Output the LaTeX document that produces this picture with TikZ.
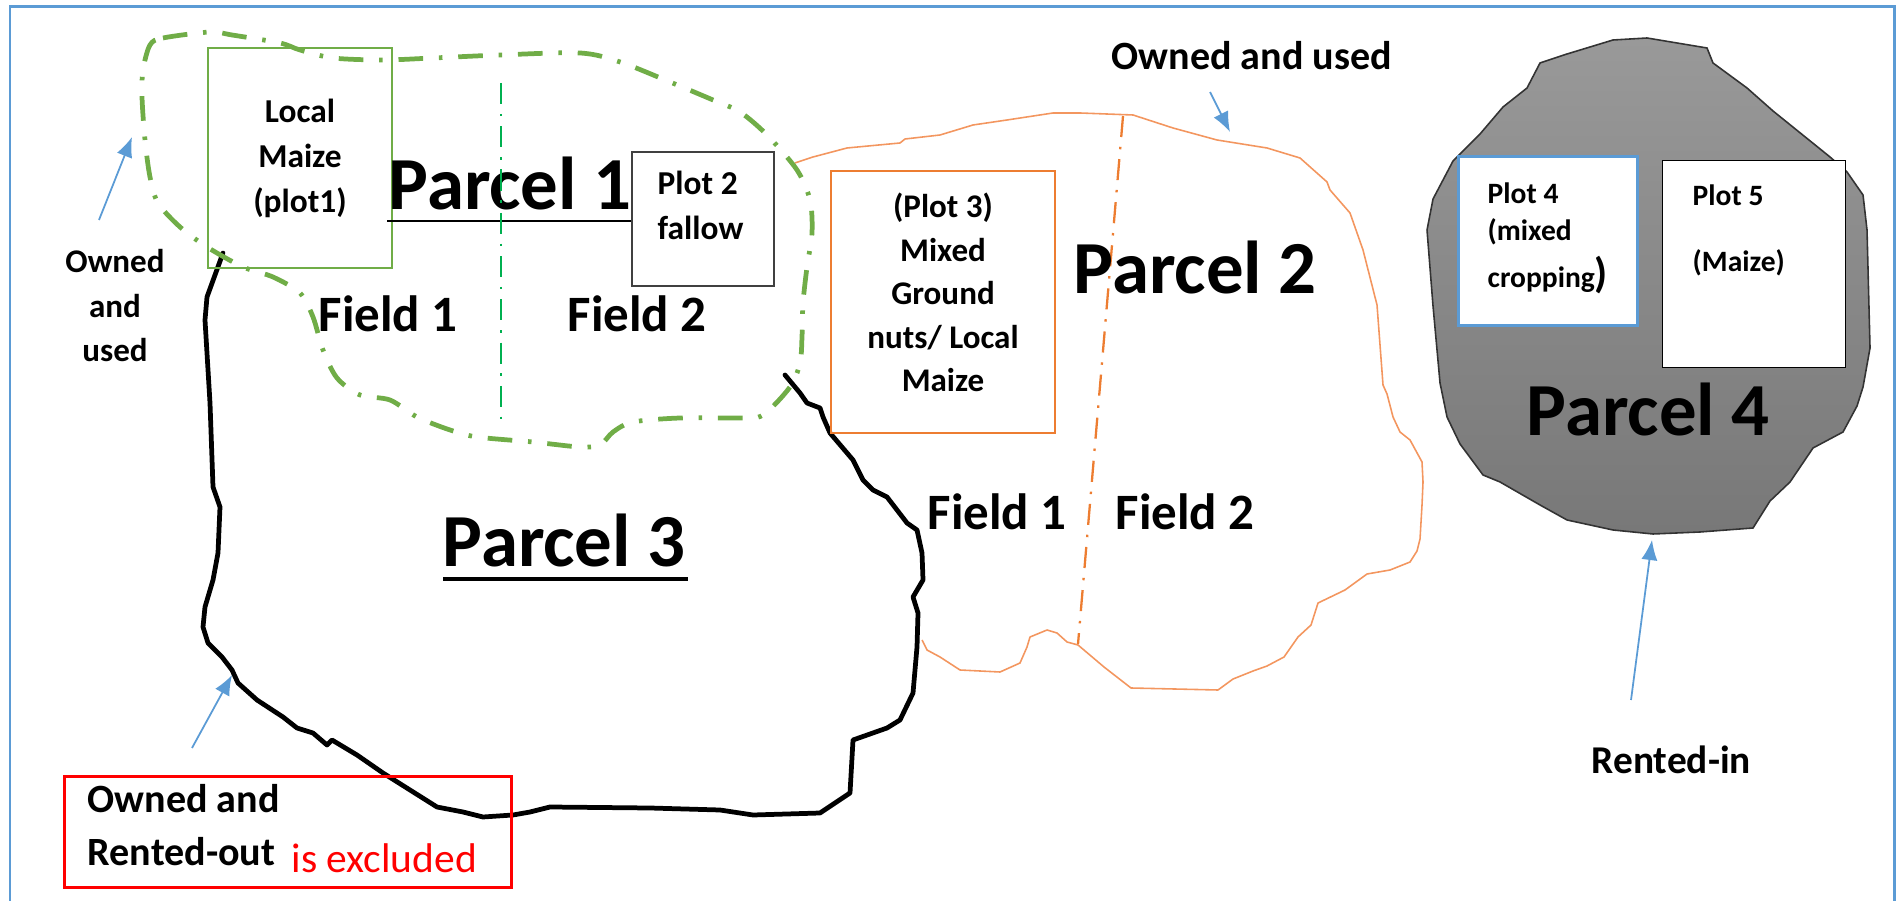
\documentclass[tikz,border=0pt]{standalone}
\usepackage{fontspec}
\setmainfont{Carlito}
\usetikzlibrary{arrows.meta}

\definecolor{frameblue}{RGB}{91,155,213}
\definecolor{loopgreen}{RGB}{112,173,71}
\definecolor{fieldgreen}{RGB}{0,176,80}
\definecolor{plotorange}{RGB}{237,125,49}
\definecolor{edgeorange}{RGB}{243,150,95}
\definecolor{boxgrey}{RGB}{64,64,64}

\begin{document}
\begin{tikzpicture}[x=0.01cm, y=-0.01cm,
    plotbox/.style={rectangle, draw, inner sep=0pt},
    plottext/.style={font=\fontsize{9.5}{12.9}\selectfont\bfseries, inner sep=0pt},
    parcel/.style={font=\fontsize{21.3}{25}\selectfont\bfseries, inner sep=0pt, anchor=base west},
    field/.style={font=\fontsize{14.5}{17}\selectfont\bfseries, inner sep=0pt, anchor=base west},
    tenure/.style={font=\fontsize{11.4}{14}\selectfont\bfseries, inner sep=0pt, anchor=base west},
    pointer/.style={frameblue, line width=0.5pt, -{Latex[length=5.7pt, width=4.6pt]}},
    dashdot/.style={dash pattern=on 6pt off 2.8pt on 0.7pt off 2.8pt}]

  \useasboundingbox (0,0) rectangle (1898,901);
  \draw[frameblue, line width=0.85pt] (10,915) -- (10,7) -- (1894,7) -- (1894,915);

      % parcel 4, rented-in
      \shadedraw[top color=black!40, bottom color=black!53, draw=black!80, line width=0.45pt]
        plot coordinates {(1647,38) (1707,48) (1713,63) (1747,88) (1773,111) (1830,157)
          (1847,172) (1863,195) (1867,230) (1870,348) (1863,387) (1857,406) (1843,432)
          (1813,448) (1790,482) (1770,501) (1753,528) (1700,532) (1653,534) (1613,530)
          (1567,520) (1540,505) (1500,482) (1483,475) (1460,444) (1447,417) (1440,383)
          (1433,306) (1427,230) (1433,199) (1453,161) (1480,134) (1503,107) (1527,88)
          (1540,63) (1567,54) (1613,40)} -- cycle;

      % parcel 3, rented-out
      \draw[line width=1.35pt, line join=round, line cap=round]
        plot coordinates {(223,253) (207,297) (205,320) (210,403) (213,487) (220,507)
          (218,553) (213,580) (205,607) (203,627) (208,643) (222,657) (232,670) (238,683)
          (257,700) (283,717) (297,728) (313,733) (327,745) (332,740) (357,755) (383,773)
          (410,790) (437,807) (463,812) (483,817) (513,815) (530,812) (550,807) (650,808)
          (720,810) (753,815) (820,813) (850,793) (853,740) (887,728) (900,720) (913,693)
          (917,647) (918,613) (913,597) (923,580) (922,553) (917,530) (907,523) (887,497)
          (873,490) (863,480) (853,460) (830,433) (823,417) (820,408) (807,403) (800,393)
          (785,375)};

      % parcel 2
      \draw[edgeorange, line width=0.45pt, line join=round]
        plot coordinates {(795,163) (813,157) (847,148) (900,143) (905,139) (940,135)
          (973,125) (1007,120) (1053,113) (1080,113) (1133,115) (1173,128) (1217,140)
          (1267,148) (1300,158) (1327,182) (1330,190) (1350,213) (1363,250) (1377,305)
          (1383,385) (1387,394) (1393,417) (1400,432) (1410,440) (1422,462) (1423,482)
          (1422,505) (1420,539) (1417,551) (1410,562) (1390,570) (1367,574) (1345,590)
          (1318,603) (1311,625) (1298,637) (1284,657) (1267,666) (1253,671) (1233,679)
          (1218,690) (1131,688) (1104,667) (1078,645) (1067,642) (1057,633) (1047,630)
          (1030,637) (1027,647) (1020,663) (1000,672) (960,670) (940,657) (927,650)
          (922,640)};
      \draw[plotorange, line width=0.65pt, dashdot] (1123,116) -- (1078,644);

      \node[plotbox,
            draw = loopgreen,
            line width = 0.6pt,
            minimum width = 1.84cm,
            minimum height = 2.2cm] (plot1) at (300,158) {};
      \node[plottext, align=center, anchor=base] (plot1txt) at (300,213) {Local\\Maize\\(plot1)};

      % parcel 1, owned and used
      \draw[loopgreen, line width=1.35pt, dash pattern=on 7pt off 4.5pt on 1pt off 4.5pt]
        plot[smooth cycle, tension=0.5] coordinates {(150,45) (163,38) (210,32) (232,35)
          (280,43) (300,50) (333,58) (383,60) (433,58) (500,55) (580,53) (620,62) (670,82)
          (713,100) (740,112) (767,135) (797,170) (810,200) (812,233) (807,267) (803,303)
          (802,337) (800,363) (790,387) (763,415) (740,418) (680,418) (633,422) (613,432)
          (600,445) (580,447) (533,442) (477,437) (450,430) (417,417) (390,400) (360,395)
          (337,378) (323,350) (313,317) (300,293) (273,277) (243,267) (207,247) (180,227)
          (158,203) (150,177) (145,140) (142,97) (143,70)};

      \node[plotbox,
            draw = boxgrey,
            fill = white,
            line width = 0.45pt,
            minimum width = 1.42cm,
            minimum height = 1.34cm] (plot2) at (703,219) {};
      \node[plottext, align=left, anchor=base west] (plot2txt) at (657,240) {Plot 2\\fallow};

      \node[plotbox,
            draw = plotorange,
            line width = 0.8pt,
            minimum width = 2.24cm,
            minimum height = 2.62cm] (plot3) at (943,302) {};
      \node[plottext, font=\fontsize{9.4}{12.4}\selectfont\bfseries, align=center, anchor=base]
        (plot3txt) at (943,392) {(Plot 3)\\Mixed\\Ground\\nuts/ Local\\Maize};

      \node[plotbox,
            draw = frameblue,
            fill = white,
            line width = 0.85pt,
            minimum width = 1.78cm,
            minimum height = 1.68cm] (plot4) at (1548,241) {};
      \node[plottext, font=\fontsize{8.4}{10.5}\selectfont\bfseries, align=left, anchor=base west]
        (plot4txt) at (1487,288) {Plot 4\\(mixed\\[3pt]cropping{\fontsize{12}{12}\selectfont)}};

      \node[plotbox,
            draw = black,
            fill = white,
            line width = 0.45pt,
            minimum width = 1.83cm,
            minimum height = 2.07cm] (plot5) at (1754,264) {};
      \node[plottext, font=\fontsize{8.4}{10.5}\selectfont\bfseries, align=left, anchor=base west]
        (plot5txt) at (1692,272) {Plot 5\\[8.5pt](Maize)};

      \node[parcel] (pc1) at (388,210) {Parcel 1};
      \node[parcel] (pc2) at (1073,294) {Parcel 2};
      \node[parcel] (pc3) at (442,567) {Parcel 3};
      \node[parcel] (pc4) at (1526,436) {Parcel 4};
      \draw[line width=0.75pt] (387,221) -- (plot2.west |- 0,221);
      \draw[line width=0.9pt] (443,579) -- (688,579);

      \draw[fieldgreen, line width=0.5pt, dashdot] (501,83) -- (501,422);

      \node[field] (f1a) at (318,332) {Field 1};
      \node[field] (f2a) at (567,332) {Field 2};
      \node[field] (f1b) at (927,530) {Field 1};
      \node[field] (f2b) at (1115,530) {Field 2};

      \node[tenure] (usedtop) at (1111,70) {Owned and used};
      \node[tenure, font=\fontsize{9.4}{12.7}\selectfont\bfseries, align=center, anchor=base]
        (usedleft) at (115,362) {Owned\\and\\used};
      \node[tenure, font=\fontsize{11.2}{14}\selectfont\bfseries] (rentin) at (1591,773) {Rented-in};

      \node[plotbox,
            draw = red,
            line width = 0.7pt,
            minimum width = 4.47cm,
            minimum height = 1.11cm] (outbox) at (288,832) {};
      \node[tenure] (outtxt1) at (87,812) {Owned and};
      \node[tenure] (outtxt2) at (87,865) {Rented-out};
      \node[inner sep=0pt, anchor=base west, red, font=\fontsize{11.8}{14}\selectfont]
        (excl) at (291,872) {is excluded};

      \coordinate (lefttail) at (99,220);
      \coordinate (lefthead) at (132,137);
      \coordinate (toptail) at (1210,92);
      \coordinate (tophead) at (1230,132);
      \coordinate (outtail) at (192,748);
      \coordinate (outhead) at (232,675);
      \coordinate (intail) at (1631,700);
      \coordinate (inhead) at (1652,540);
      \draw[pointer] (lefttail) -- (lefthead);
      \draw[pointer] (toptail) -- (tophead);
      \draw[pointer] (outtail) -- (outhead);
      \draw[pointer] (intail) -- (inhead);

\end{tikzpicture}
\end{document}
